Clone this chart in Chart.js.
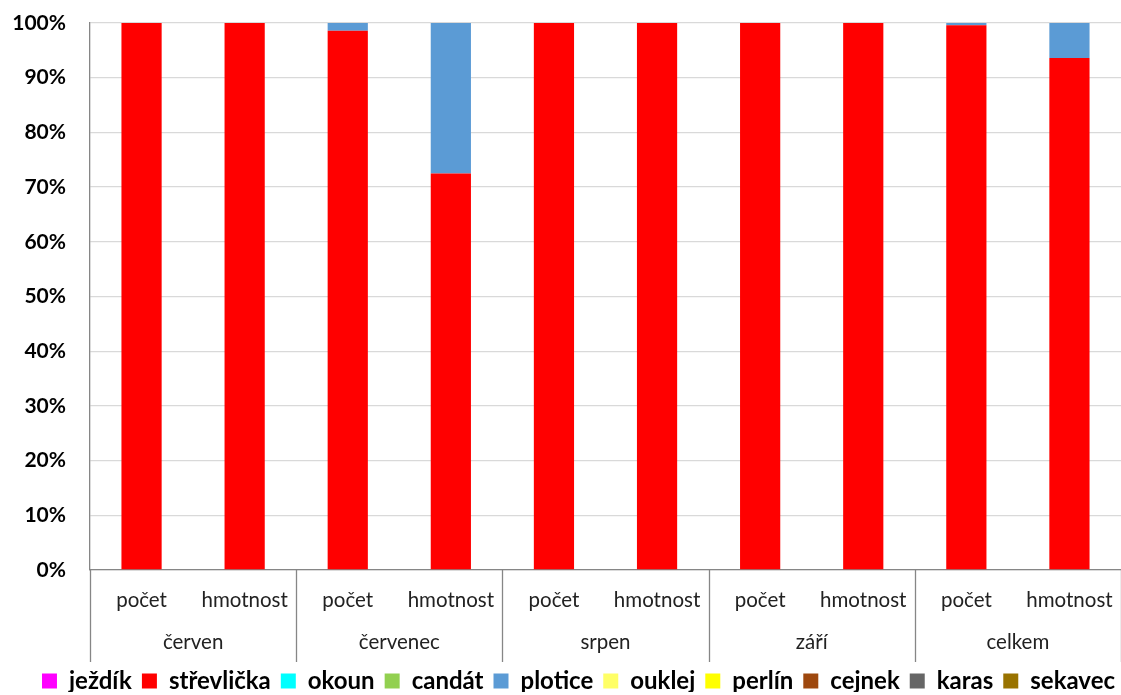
<!DOCTYPE html>
<html lang="cs">
<head>
<meta charset="utf-8">
<title>Podíl druhů</title>
<script src="https://cdn.jsdelivr.net/npm/chart.js@4"></script>
<style>
  html, body { margin: 0; padding: 0; background: #fff; }
  #wrap { width: 1121px; height: 695px; position: relative; }
</style>
</head>
<body>
<div id="wrap"><canvas id="chart"></canvas></div>
<script>
// Sub-categories (x ticks) and the month groups they belong to
const subLabels = ["počet", "hmotnost", "počet", "hmotnost", "počet", "hmotnost", "počet", "hmotnost", "počet", "hmotnost"];
const groups = ["červen", "červenec", "srpen", "září", "celkem"];

// Share of each species in percent, one value per bar
const jezdik     = [0, 0, 0, 0, 0, 0, 0, 0, 0, 0];
const strevlicka = [100, 100, 98.6, 72.5, 100, 100, 100, 100, 99.6, 93.6];
const okoun      = [0, 0, 0, 0, 0, 0, 0, 0, 0, 0];
const candat     = [0, 0, 0, 0, 0, 0, 0, 0, 0, 0];
const plotice    = [0, 0, 1.4, 27.5, 0, 0, 0, 0, 0.4, 6.4];
const ouklej     = [0, 0, 0, 0, 0, 0, 0, 0, 0, 0];
const perlin     = [0, 0, 0, 0, 0, 0, 0, 0, 0, 0];
const cejnek     = [0, 0, 0, 0, 0, 0, 0, 0, 0, 0];
const karas      = [0, 0, 0, 0, 0, 0, 0, 0, 0, 0];
const sekavec    = [0, 0, 0, 0, 0, 0, 0, 0, 0, 0];

const yTicks = [0, 10, 20, 30, 40, 50, 60, 70, 80, 90, 100];

const series = [
  { label: "ježdík", data: jezdik, color: "#FF00FF" },
  { label: "střevlička", data: strevlicka, color: "#FF0000" },
  { label: "okoun", data: okoun, color: "#00FFFF" },
  { label: "candát", data: candat, color: "#92D050" },
  { label: "plotice", data: plotice, color: "#5B9BD5" },
  { label: "ouklej", data: ouklej, color: "#FFFF66" },
  { label: "perlín", data: perlin, color: "#FFFF00" },
  { label: "cejnek", data: cejnek, color: "#9E480E" },
  { label: "karas", data: karas, color: "#666666" },
  { label: "sekavec", data: sekavec, color: "#997300" },
];

const FONT = "Lato, 'Open Sans', sans-serif";

// Draws the month row under the sub labels and the vertical separators
const groupAxis = {
  id: "groupAxis",
  afterDraw(chart) {
    const x = chart.scales.x;
    const ctx = chart.ctx;
    const step = x.width / subLabels.length;
    const per = subLabels.length / groups.length;
    const top = chart.chartArea.bottom;
    const bottom = top + 92;
    ctx.save();
    ctx.strokeStyle = "#868686";
    ctx.lineWidth = 1.3;
    for (let i = 0; i <= groups.length; i++) {
      const px = Math.round(x.left + i * per * step) + 0.5;
      ctx.beginPath();
      ctx.moveTo(px, top);
      ctx.lineTo(px, bottom);
      ctx.stroke();
    }
    ctx.fillStyle = "#222";
    ctx.font = "20.5px " + FONT;
    ctx.textAlign = "center";
    ctx.textBaseline = "middle";
    groups.forEach((g, i) => {
      const cx = x.left + (i + 0.5) * per * step;
      ctx.fillText(g, cx, top + 72);
    });
    ctx.restore();
  }
};

// Keeps the legend row short and nudges it a little right and up
const legendFit = {
  id: "legendFit",
  beforeLayout(chart) {
    const legend = chart.legend;
    if (legend && !legend._short) {
      const fit = legend.fit;
      legend.fit = function () {
        fit.call(this);
        this.height = 33;
      };
      legend._short = true;
    }
  },
  afterLayout(chart) {
    chart.legend.left += 18;
    chart.legend.right += 18;
    chart.legend.top -= 3;
    chart.legend.bottom -= 3;
  }
};

new Chart(document.getElementById("chart"), {
  type: "bar",
  data: {
    labels: subLabels,
    datasets: series.map((s) => ({
      label: s.label,
      data: s.data,
      backgroundColor: s.color,
      borderWidth: 0,
      barPercentage: 0.39,
      categoryPercentage: 1.0,
    })),
  },
  options: {
    responsive: true,
    maintainAspectRatio: false,
    animation: false,
    layout: { padding: { top: 23, right: 0, left: 0, bottom: 0 } },
    plugins: {
      tooltip: { enabled: false },
      legend: {
        position: "bottom",
        labels: {
          color: "#000",
          font: { family: FONT, size: 24, weight: "bold" },
          boxWidth: 15,
          boxHeight: 15,
          padding: 10,
        },
      },
    },
    scales: {
      x: {
        stacked: true,
        grid: { display: false },
        border: { display: true, color: "#868686", width: 1.3 },
        ticks: {
          color: "#222",
          font: { family: FONT, size: 20.5 },
          padding: 10,
          maxRotation: 0,
          autoSkip: false,
        },
        afterFit(scale) {
          scale.height = 92;
          scale.paddingLeft = 0;
          scale.paddingRight = 0;
        },
      },
      y: {
        stacked: true,
        min: 0,
        max: 100,
        afterBuildTicks(scale) { scale.ticks = yTicks.map((v) => ({ value: v })); },
        grid: { color: "#d9d9d9", lineWidth: 1.3, drawTicks: false },
        border: { display: true, color: "#868686", width: 1.3 },
        ticks: {
          color: "#000",
          font: { family: FONT, size: 21, weight: "bold" },
          padding: 24,
          callback: (v) => v + "%",
        },
        afterFit(scale) {
          scale.width = 90;
          scale.paddingTop = 0;
          scale.paddingBottom = 0;
        },
      },
    },
  },
  plugins: [groupAxis, legendFit],
});
</script>
</body>
</html>
